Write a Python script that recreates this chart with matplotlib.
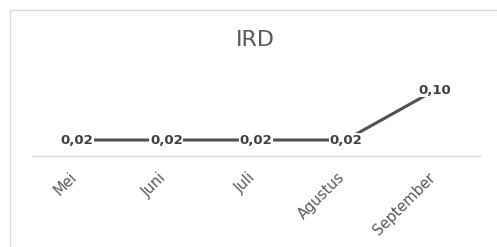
import matplotlib
matplotlib.use("Agg")
import matplotlib.pyplot as plt
import matplotlib.transforms as mtransforms
from matplotlib.patches import Rectangle

months = ["Mei", "Juni", "Juli", "Agustus", "September"]
ird = [0.02, 0.02, 0.02, 0.02, 0.10]
labels = ["0,02", "0,02", "0,02", "0,02", "0,10"]

W, H = 497, 247
fig = plt.figure(figsize=(W / 100, H / 100), dpi=100)
fig.patch.set_facecolor("white")

# chart frame (light grey, cropped on right/bottom)
fig.patches.append(Rectangle((10 / W, -0.1), 1.2, 1.1 - 10 / H, transform=fig.transFigure,
                             fill=False, edgecolor="#d9d9d9", linewidth=1.0))

ax = fig.add_axes([32 / W, 1 - 156 / H, 448 / W, 96 / H])
x = list(range(len(months)))
ax.plot(x, ird, color="#505050", linewidth=2.2, solid_capstyle="butt", zorder=2)
for xi, v, t in zip(x, ird, labels):
    ax.text(xi, v, t, ha="center", va="center", fontsize=9.5, fontweight="bold",
            color="#404040", zorder=3,
            bbox=dict(boxstyle="square,pad=0.05", facecolor="white", edgecolor="none"))

ax.set_xlim(-0.5, 4.5)
ax.set_ylim(-0.0056, 0.148)
ax.set_yticks([])
ax.set_xticks(x)
ax.set_xticklabels(months, rotation=45, ha="right", rotation_mode="anchor",
                   fontsize=10.5, color="#595959")
ax.tick_params(axis="x", length=0, pad=10)
shift = mtransforms.ScaledTranslation(-8 / 100, 0, fig.dpi_scale_trans)
for lab in ax.get_xticklabels():
    lab.set_transform(lab.get_transform() + shift)
for s in ["top", "right", "left"]:
    ax.spines[s].set_visible(False)
ax.spines["bottom"].set_color("#d9d9d9")
ax.spines["bottom"].set_linewidth(1.0)
ax.patch.set_alpha(0)

fig.text(255 / W, 1 - 40 / H, "IRD", ha="center", va="center", fontsize=16, color="#595959")

fig.savefig("out.png", dpi=100)
